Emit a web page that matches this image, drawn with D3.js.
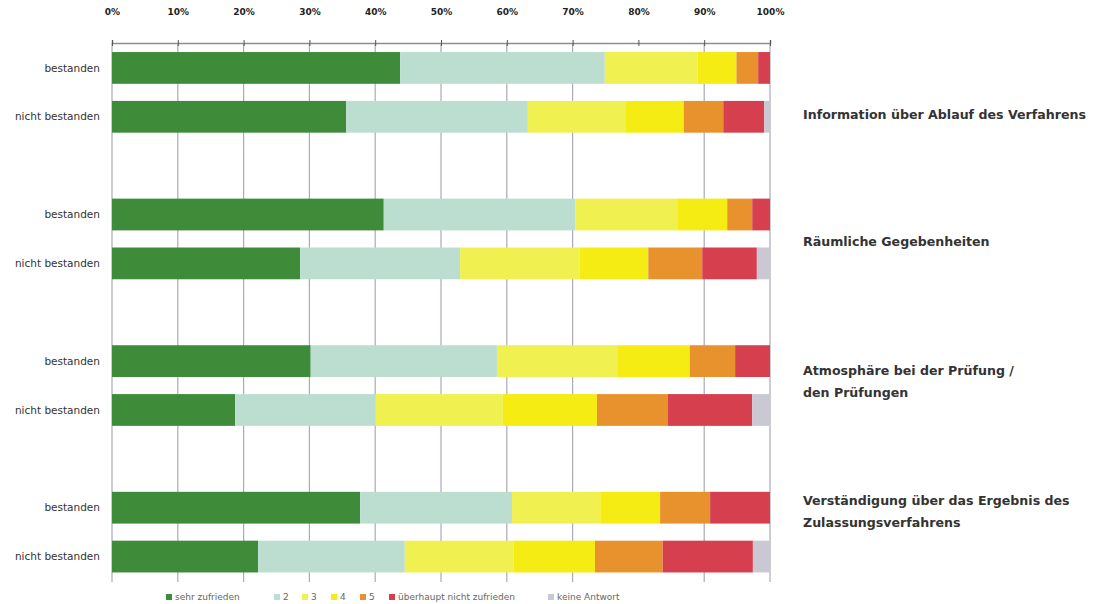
<!DOCTYPE html>
<html>
<head>
<meta charset="utf-8">
<script src="https://cdn.jsdelivr.net/npm/d3@7"></script>
<style>
  html, body { margin: 0; padding: 0; background: #fff; }
  svg { display: block; }
</style>
</head>
<body>
<svg id="chart" width="1093" height="604"></svg>
<script>
// ---------- data ----------
const groupLabels = [
  ["Information über Ablauf des Verfahrens"],
  ["Räumliche Gegebenheiten"],
  ["Atmosphäre bei der Prüfung /", "den Prüfungen"],
  ["Verständigung über das Ergebnis des", "Zulassungsverfahrens"]
];
const rowLabels = ["bestanden", "nicht bestanden"];
const seriesNames = ["sehr zufrieden", "2", "3", "4", "5", "überhaupt nicht zufrieden", "keine Antwort"];
const sehrZufrieden = [43.8, 35.6, 41.3, 28.6, 30.2, 18.7, 37.7, 22.2];
const stufe2        = [31.1, 27.6, 29.1, 24.3, 28.3, 21.3, 23.1, 22.3];
const stufe3        = [14.1, 14.8, 15.6, 18.2, 18.4, 19.4, 13.4, 16.5];
const stufe4        = [5.9, 8.9, 7.5, 10.4, 10.9, 14.3, 9.1, 12.4];
const stufe5        = [3.3, 6.0, 3.8, 8.2, 6.9, 10.8, 7.6, 10.3];
const ueberhauptNicht = [1.8, 6.2, 2.7, 8.3, 5.3, 12.8, 9.1, 13.7];
const keineAntwort  = [0, 0.9, 0, 2.0, 0, 2.7, 0, 2.6];
const tickValues = [0, 10, 20, 30, 40, 50, 60, 70, 80, 90, 100];
const tickLabels = ["0%", "10%", "20%", "30%", "40%", "50%", "60%", "70%", "80%", "90%", "100%"];

// ---------- styles ----------
const colors = ["#3e8b3a", "#bcded1", "#f0f050", "#f5ec14", "#e8922e", "#d63f4e", "#cac8d3"];
const seriesValues = [sehrZufrieden, stufe2, stufe3, stufe4, stufe5, ueberhauptNicht, keineAntwort];

// build rows
const rows = [];
groupLabels.forEach((g, gi) => {
  rowLabels.forEach((r, ri) => {
    const idx = gi * 2 + ri;
    const o = { key: "g" + gi + "r" + ri, label: r, group: gi };
    seriesNames.forEach((s, si) => { o[s] = seriesValues[si][idx]; });
    rows.push(o);
  });
});
// slot domain with empty slots between groups
const slots = [];
groupLabels.forEach((g, gi) => {
  slots.push("g" + gi + "r0", "g" + gi + "r1");
  if (gi < groupLabels.length - 1) slots.push("gap" + gi);
});

const svg = d3.select("#chart");
const x = d3.scaleLinear().domain([0, 100]).range([112, 770]);
const y = d3.scaleBand().domain(slots).range([43.5, 581]).paddingInner(0.35).paddingOuter(0.175);

const axisY = 43;
const gridBottom = 582;

// gridlines (the 80% line is absent in the original)
svg.append("g").selectAll("line")
  .data(tickValues.filter(v => v !== 80))
  .join("line")
  .attr("x1", d => x(d)).attr("x2", d => x(d))
  .attr("y1", axisY).attr("y2", gridBottom)
  .attr("stroke", "#aca9b9").attr("stroke-width", 1.2);

// top axis
const axis = d3.axisTop(x).tickValues(tickValues)
  .tickFormat((d, i) => tickLabels[i]).tickSize(3).tickPadding(25);
const ag = svg.append("g").attr("transform", `translate(0,${axisY})`).call(axis);
ag.select(".domain").attr("stroke", "#8e8a9c").attr("stroke-width", 1.5);
ag.selectAll(".tick line").attr("stroke", "#555").attr("y2", 3).attr("y1", -3);
ag.selectAll(".tick text")
  .attr("font-family", "DejaVu Sans, sans-serif")
  .attr("font-size", 9).attr("fill", "#222").attr("font-weight", "bold");

// stacked bars
const stack = d3.stack().keys(seriesNames);
const stacked = stack(rows);
svg.append("g").selectAll("g")
  .data(stacked)
  .join("g")
  .attr("fill", (d, i) => colors[i])
  .selectAll("rect")
  .data(d => d.map(v => Object.assign(v, { key: v.data.key })))
  .join("rect")
  .attr("x", d => x(d[0]))
  .attr("width", d => Math.max(0, x(d[1]) - x(d[0])))
  .attr("y", d => y(d.key))
  .attr("height", y.bandwidth());

// row labels
svg.append("g").selectAll("text")
  .data(rows)
  .join("text")
  .attr("x", 100)
  .attr("y", d => y(d.key) + y.bandwidth() / 2)
  .attr("dy", "0.35em")
  .attr("text-anchor", "end")
  .attr("font-family", "DejaVu Sans, sans-serif")
  .attr("font-size", 10.5)
  .attr("fill", "#333")
  .text(d => d.label);

// group labels on the right
const groupBaselines = [119, 246, 375, 505];
const lineGap = 22;
const gl = svg.append("g");
groupLabels.forEach((lines, gi) => {
  const t = gl.append("text")
    .attr("font-family", "DejaVu Sans, sans-serif")
    .attr("font-size", 12.6)
    .attr("font-weight", "bold")
    .attr("fill", "#333");
  lines.forEach((ln, li) => {
    t.append("tspan").attr("x", 803).attr("y", groupBaselines[gi] + li * lineGap).text(ln);
  });
});

// legend
const legendItems = [
  { name: seriesNames[0], x: 166 },
  { name: seriesNames[1], x: 274 },
  { name: seriesNames[2], x: 302 },
  { name: seriesNames[3], x: 331 },
  { name: seriesNames[4], x: 360 },
  { name: seriesNames[5], x: 389 },
  { name: seriesNames[6], x: 548 }
];
const lg = svg.append("g");
legendItems.forEach((it, i) => {
  lg.append("rect").attr("x", it.x).attr("y", 594).attr("width", 6).attr("height", 6).attr("fill", colors[i]);
  lg.append("text").attr("x", it.x + 9).attr("y", 597).attr("dy", "0.35em")
    .attr("font-family", "DejaVu Sans, sans-serif").attr("font-size", 9)
    .attr("fill", "#666").text(it.name);
});
</script>
</body>
</html>
